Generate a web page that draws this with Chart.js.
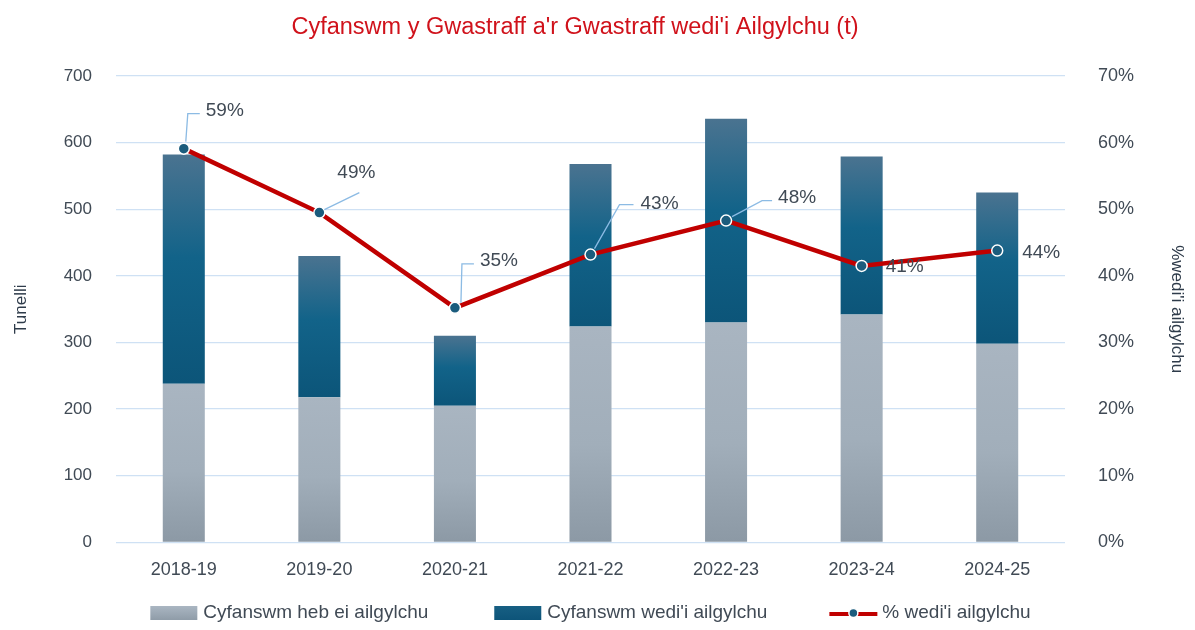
<!DOCTYPE html>
<html>
<head>
<meta charset="utf-8">
<script src="https://cdn.jsdelivr.net/npm/chart.js@4"></script>
<style>
  html, body { margin: 0; padding: 0; background: #fff; }
  #wrap { width: 1195px; height: 630px; }
</style>
</head>
<body>
<div id="wrap"><canvas id="chart"></canvas></div>
<script>
const years = ['2018-19', '2019-20', '2020-21', '2021-22', '2022-23', '2023-24', '2024-25'];
const notRecycled = [238, 218, 205, 324, 330, 342, 298];
const recycled = [344, 212, 105, 244, 306, 237, 227];
const pctRecycled = [59.1, 49.5, 35.2, 43.2, 48.3, 41.5, 43.8];
const pctText = ['59%', '49%', '35%', '43%', '48%', '41%', '44%'];
const tonneTicks = [0, 100, 200, 300, 400, 500, 600, 700];
const pctTicks = [0, 10, 20, 30, 40, 50, 60, 70];
const chartTitle = "Cyfanswm y Gwastraff a'r Gwastraff wedi'i Ailgylchu (t)";

const FONT = "'Liberation Sans Narrow', 'Arial Narrow', 'Liberation Sans', Arial, sans-serif";
const TEXT = '#404a55';

function greyFill(context) {
  const i = context.dataIndex;
  const chart = context.chart;
  const y = chart.scales && chart.scales.y;
  if (!chart.chartArea || !y || i === undefined) return '#a3b0bc';
  const g = chart.ctx.createLinearGradient(0, y.getPixelForValue(notRecycled[i]), 0, y.getPixelForValue(0));
  g.addColorStop(0, '#a9b5c1');
  g.addColorStop(0.55, '#a1aeba');
  g.addColorStop(1, '#8c99a5');
  return g;
}

function blueFill(context) {
  const i = context.dataIndex;
  const chart = context.chart;
  const y = chart.scales && chart.scales.y;
  if (!chart.chartArea || !y || i === undefined) return '#0f5a7e';
  const g = chart.ctx.createLinearGradient(0, y.getPixelForValue(notRecycled[i] + recycled[i]), 0, y.getPixelForValue(notRecycled[i]));
  g.addColorStop(0, '#4a7390');
  g.addColorStop(0.45, '#126389');
  g.addColorStop(1, '#0c5579');
  return g;
}

function drawMark(ctx, i, x, y) {
  if (i < 2) {
    const g = ctx.createLinearGradient(0, y - 7, 0, y + 7);
    if (i === 0) { g.addColorStop(0, '#aab6c2'); g.addColorStop(1, '#8f9ca8'); }
    else { g.addColorStop(0, '#175f83'); g.addColorStop(1, '#0d5479'); }
    ctx.fillStyle = g;
    ctx.fillRect(x, y - 7, 47, 14);
  } else {
    ctx.strokeStyle = '#c00000';
    ctx.lineWidth = 4;
    ctx.beginPath(); ctx.moveTo(x, y + 1); ctx.lineTo(x + 48, y + 1); ctx.stroke();
    ctx.beginPath(); ctx.arc(x + 24, y, 4.5, 0, Math.PI * 2);
    ctx.fillStyle = '#1b5c7d'; ctx.fill();
    ctx.strokeStyle = '#ffffff'; ctx.lineWidth = 1.5; ctx.stroke();
  }
}

// title, a bit left of centre like the original
const topTitle = {
  id: 'topTitle',
  afterDraw(chart) {
    const ctx = chart.ctx;
    ctx.save();
    ctx.font = '23.5px ' + FONT;
    ctx.fillStyle = '#d0121b';
    ctx.textAlign = 'center';
    ctx.textBaseline = 'middle';
    ctx.fillText(chartTitle, 575, 28);
    ctx.restore();
  }
};

// legend drawn at the bottom, in the space kept by layout padding
const bottomLegend = {
  id: 'bottomLegend',
  afterDraw(chart) {
    const ctx = chart.ctx;
    const gaps = [66, 62];
    ctx.save();
    ctx.font = '19px ' + FONT;
    const items = chart.data.datasets.map(ds => ({ text: ds.label, w: 48 + 5 + ctx.measureText(ds.label).width }));
    const total = items.reduce((s, it) => s + it.w, 0) + gaps[0] + gaps[1];
    let x = (chart.width - total) / 2 - 7;
    const y = 613;
    items.forEach((it, i) => {
      drawMark(ctx, i, x, y);
      ctx.fillStyle = TEXT;
      ctx.textAlign = 'left';
      ctx.textBaseline = 'middle';
      ctx.fillText(it.text, x + 53, y);
      x += it.w + (gaps[i] || 0);
    });
    ctx.restore();
  }
};

// labels with leader lines, offsets relative to each point
const pctLabels = {
  id: 'pctLabels',
  afterDatasetsDraw(chart) {
    const cfg = [
      { t: [22, -38], l: [[2, -7], [4, -35], [16, -35]] },
      { t: [18, -40], l: [[5, -3], [40, -20]] },
      { t: [25, -47], l: [[6, -5], [7, -44], [19, -44]] },
      { t: [50, -51], l: [[4, -6], [29, -50], [43, -50]] },
      { t: [52, -23], l: [[6, -4], [36, -20], [46, -20]] },
      { t: [24, 1], l: null },
      { t: [25, 2], l: null }
    ];
    const meta = chart.getDatasetMeta(2);
    const ctx = chart.ctx;
    ctx.save();
    meta.data.forEach((pt, i) => {
      const c = cfg[i];
      if (c.l) {
        ctx.strokeStyle = '#8cbbe4';
        ctx.lineWidth = 1.3;
        ctx.beginPath();
        c.l.forEach((p, k) => {
          if (k === 0) ctx.moveTo(pt.x + p[0], pt.y + p[1]);
          else ctx.lineTo(pt.x + p[0], pt.y + p[1]);
        });
        ctx.stroke();
      }
      ctx.font = '19px ' + FONT;
      ctx.fillStyle = TEXT;
      ctx.textAlign = 'left';
      ctx.textBaseline = 'middle';
      ctx.fillText(pctText[i], pt.x + c.t[0], pt.y + c.t[1]);
    });
    ctx.restore();
  }
};

new Chart(document.getElementById('chart'), {
  type: 'bar',
  data: {
    labels: years,
    datasets: [
      {
        label: 'Cyfanswm heb ei ailgylchu',
        data: notRecycled,
        backgroundColor: greyFill,
        stack: 's',
        yAxisID: 'y',
        order: 2,
        barPercentage: 0.31,
        categoryPercentage: 1
      },
      {
        label: "Cyfanswm wedi'i ailgylchu",
        data: recycled,
        backgroundColor: blueFill,
        stack: 's',
        yAxisID: 'y',
        order: 2,
        barPercentage: 0.31,
        categoryPercentage: 1
      },
      {
        type: 'line',
        label: "% wedi'i ailgylchu",
        data: pctRecycled,
        yAxisID: 'y1',
        borderColor: '#c00000',
        borderWidth: 4.5,
        pointRadius: 5.5,
        pointBackgroundColor: '#1b5c7d',
        pointBorderColor: '#ffffff',
        pointBorderWidth: 1.5,
        tension: 0,
        order: 0
      }
    ]
  },
  options: {
    responsive: true,
    maintainAspectRatio: false,
    animation: false,
    layout: { padding: { top: 76, bottom: 40, left: 0, right: 0 } },
    plugins: {
      title: { display: false },
      legend: { display: false },
      tooltip: { enabled: false }
    },
    scales: {
      x: {
        stacked: true,
        grid: { display: false },
        border: { display: false },
        ticks: { color: TEXT, font: { family: FONT, size: 18 }, padding: 9 }
      },
      y: {
        stacked: true,
        min: 0,
        max: 700,
        afterBuildTicks(axis) { axis.ticks = tonneTicks.map(v => ({ value: v })); },
        grid: { color: '#cfe1f4', lineWidth: 1.3, drawTicks: false },
        border: { display: false },
        ticks: { color: TEXT, font: { family: FONT, size: 17 }, padding: 24 },
        title: { display: true, text: 'Tunelli', color: '#2e3b4a', font: { family: FONT, size: 17 }, padding: { top: 11, bottom: 0 } },
        afterFit(axis) { axis.width = 116; }
      },
      y1: {
        position: 'right',
        min: 0,
        max: 70,
        afterBuildTicks(axis) { axis.ticks = pctTicks.map(v => ({ value: v })); },
        grid: { display: false },
        border: { display: false },
        ticks: { color: TEXT, font: { family: FONT, size: 18 }, padding: 25, callback: v => v + '%' },
        title: { display: true, text: "%wedi'i ailgylchu", color: '#2e3b4a', font: { family: FONT, size: 17 }, padding: { top: 8, bottom: 0 } },
        afterFit(axis) { axis.width = 130; }
      }
    }
  },
  plugins: [pctLabels, bottomLegend, topTitle]
});
</script>
</body>
</html>
